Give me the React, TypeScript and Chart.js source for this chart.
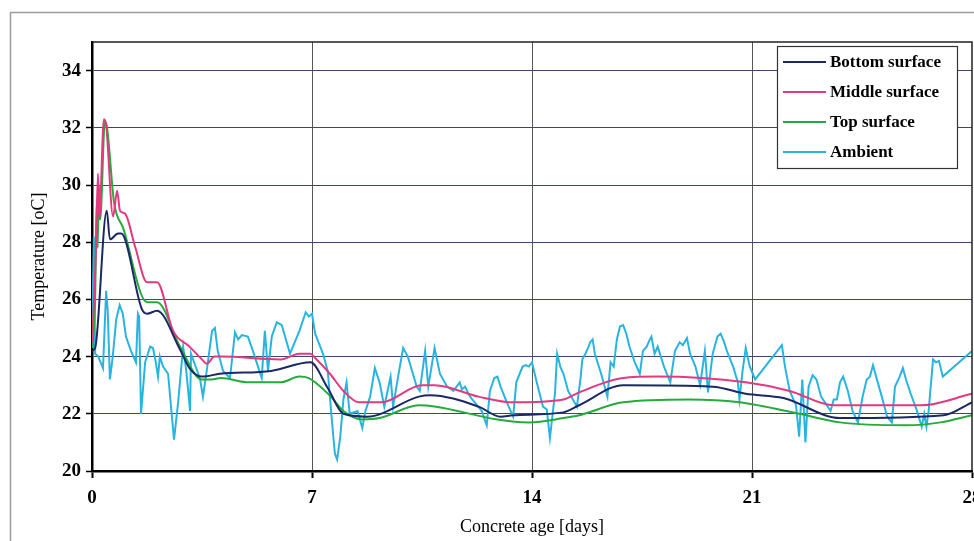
import React, { useEffect, useRef } from 'react';
import { Chart, registerables } from 'chart.js';

Chart.register(...registerables);

const FONT = '"Liberation Serif", "Times New Roman", serif';

const xTicks = [0, 7, 14, 21, 28];
const yTicks = [20, 22, 24, 26, 28, 30, 32, 34];
const seriesNames = ['Bottom surface', 'Middle surface', 'Top surface', 'Ambient'];
const seriesColors = ['#1c2766', '#e2397f', '#25ab3c', '#29b4e0'];

// [day, temperature °C]
const bottomSurface = [
  [0, 24.2], [0.1, 24.3], [0.47, 29.1], [0.57, 28.1], [0.83, 28.3], [0.93, 28.3],
  [1.59, 25.65], [1.75, 25.5], [2.07, 25.6], [2.8, 24.25], [3.1, 23.6], [3.5, 23.3],
  [4.07, 23.4], [5.7, 23.5], [6.95, 23.8], [7.5, 22.9], [8.0, 22.0], [8.75, 21.9],
  [10.4, 22.6], [10.75, 22.65], [12.3, 22.25], [13.0, 21.9], [13.4, 21.95], [15.0, 22.05],
  [15.5, 22.3], [16.9, 23.0], [19.75, 22.95], [20.8, 22.7], [22.0, 22.55], [23.8, 21.85],
  [27.1, 21.95], [28.0, 22.4],
];

const middleSurface = [
  [0, 24.5], [0.12, 27.5], [0.19, 30.4], [0.23, 28.8], [0.38, 32.3], [0.45, 32.1],
  [0.67, 28.9], [0.8, 29.8], [0.89, 29.1], [1.05, 29.0], [1.37, 27.85], [1.75, 26.6],
  [2.07, 26.6], [2.58, 24.9], [3.1, 24.35], [3.5, 23.9], [3.65, 23.75], [3.9, 24.0],
  [4.1, 24.0], [6.0, 23.9], [6.6, 24.1], [6.95, 24.1], [7.1, 23.95], [7.57, 23.4],
  [8.0, 22.8], [8.5, 22.4], [9.2, 22.4], [10.5, 23.0], [10.9, 23.0], [12.3, 22.6],
  [13.4, 22.4], [15.0, 22.5], [15.5, 22.75], [16.9, 23.25], [18.0, 23.3], [20.8, 23.1],
  [22.2, 22.8], [23.6, 22.3], [26.4, 22.3], [28.0, 22.7],
];

const topSurface = [
  [0, 24.3], [0.1, 26.0], [0.15, 29.5], [0.18, 27.8], [0.22, 30.0], [0.26, 28.8],
  [0.41, 32.2], [0.48, 32.0], [0.7, 29.4], [0.99, 28.5], [1.75, 25.9], [2.07, 25.9],
  [2.8, 24.35], [3.5, 23.2], [3.8, 23.2], [4.1, 23.25], [5.0, 23.1], [6.0, 23.1],
  [6.6, 23.3], [6.9, 23.25], [7.1, 23.1], [7.6, 22.6], [8.0, 22.1], [8.6, 21.8],
  [9.15, 21.85], [10.4, 22.3], [10.95, 22.25], [12.9, 21.8], [13.9, 21.7], [15.0, 21.85],
  [15.5, 21.95], [16.9, 22.4], [19.0, 22.5], [20.6, 22.4], [22.5, 22.0], [23.8, 21.7],
  [25.9, 21.6], [27.0, 21.7], [28.0, 21.95],
];

const ambient = [
  [0, 24.5], [0.06, 28.2], [0.1, 24.1], [0.2, 24.0], [0.35, 23.6], [0.45, 26.3],
  [0.5, 25.6], [0.57, 23.2], [0.66, 24.0], [0.77, 25.3], [0.88, 25.8], [0.98, 25.5],
  [1.08, 24.7], [1.24, 24.2], [1.4, 23.8], [1.46, 25.5], [1.5, 25.4], [1.56, 22.0],
  [1.69, 23.8], [1.85, 24.35], [1.94, 24.3], [2.03, 23.8], [2.1, 23.3], [2.16, 24.0],
  [2.26, 23.65], [2.42, 23.4], [2.61, 21.1], [2.74, 22.4], [2.9, 24.35], [3.0, 23.5],
  [3.12, 22.1], [3.15, 24.1], [3.38, 23.4], [3.44, 23.2], [3.53, 22.6], [3.65, 23.5],
  [3.82, 24.9], [3.91, 25.0], [4.0, 24.2], [4.17, 23.5], [4.39, 23.25], [4.55, 24.85],
  [4.65, 24.6], [4.77, 24.75], [4.96, 24.7], [5.12, 24.2], [5.4, 23.25], [5.5, 24.9],
  [5.6, 23.5], [5.72, 24.7], [5.88, 25.2], [6.04, 25.1], [6.3, 24.1], [6.6, 24.9],
  [6.8, 25.55], [6.9, 25.4], [7.0, 25.5], [7.1, 24.8], [7.35, 24.1], [7.5, 23.5],
  [7.67, 21.3], [7.73, 20.6], [7.8, 20.4], [7.9, 21.2], [8.0, 22.5], [8.1, 23.1],
  [8.2, 22.0], [8.45, 22.1], [8.6, 21.5], [8.7, 22.1], [8.85, 22.6], [9.0, 23.6],
  [9.15, 23.1], [9.3, 22.25], [9.5, 23.3], [9.58, 22.25], [9.74, 23.3], [9.9, 24.3],
  [10.05, 24.0], [10.33, 22.95], [10.43, 22.8], [10.6, 24.2], [10.7, 22.95], [10.9, 24.3],
  [11.07, 23.4], [11.3, 22.95], [11.5, 22.8], [11.7, 23.1], [11.77, 22.85], [11.87, 22.95],
  [12.0, 22.65], [12.1, 22.5], [12.4, 22.1], [12.56, 21.6], [12.66, 22.8], [12.8, 23.25],
  [12.9, 23.3], [13.0, 22.95], [13.2, 22.4], [13.4, 21.9], [13.5, 23.1], [13.7, 23.65],
  [13.8, 23.7], [13.9, 23.65], [14.0, 23.8], [14.15, 23.1], [14.35, 22.25], [14.47, 22.15],
  [14.57, 21.15], [14.73, 22.7], [14.8, 24.1], [14.9, 23.65], [15.0, 23.4], [15.15, 22.8],
  [15.3, 22.5], [15.43, 22.25], [15.55, 23.3], [15.6, 23.9], [15.7, 24.1], [15.8, 24.35],
  [15.85, 24.5], [15.93, 24.6], [16.0, 24.1], [16.2, 23.4], [16.4, 22.6], [16.5, 23.8],
  [16.6, 23.65], [16.7, 24.6], [16.8, 25.05], [16.9, 25.1], [17.0, 24.8], [17.1, 24.35],
  [17.27, 23.8], [17.43, 23.4], [17.53, 24.2], [17.65, 24.35], [17.75, 24.6], [17.8, 24.7],
  [17.9, 24.1], [18.0, 24.35], [18.2, 23.65], [18.4, 23.1], [18.55, 24.2], [18.7, 24.5],
  [18.8, 24.4], [18.93, 24.65], [19.03, 24.1], [19.2, 23.65], [19.35, 23.0], [19.5, 24.2],
  [19.6, 22.75], [19.75, 24.1], [19.9, 24.7], [20.0, 24.8], [20.1, 24.55], [20.2, 24.2],
  [20.4, 23.65], [20.55, 23.1], [20.6, 22.5], [20.7, 23.5], [20.8, 24.3], [20.93, 23.65],
  [21.1, 23.2], [21.95, 24.4], [22.05, 23.65], [22.2, 22.8], [22.4, 22.3], [22.5, 21.2],
  [22.6, 23.2], [22.7, 21.0], [22.8, 22.95], [22.93, 23.35], [23.05, 23.2], [23.2, 22.6],
  [23.5, 22.1], [23.6, 22.5], [23.7, 22.5], [23.8, 23.1], [23.9, 23.3], [24.05, 22.8],
  [24.2, 22.1], [24.37, 21.7], [24.52, 22.6], [24.65, 23.2], [24.75, 23.3], [24.85, 23.7],
  [24.95, 23.3], [25.13, 22.6], [25.3, 21.9], [25.45, 21.7], [25.55, 22.95], [25.7, 23.3],
  [25.8, 23.6], [25.9, 23.2], [26.05, 22.7], [26.25, 22.1], [26.4, 21.55], [26.48, 22.0],
  [26.55, 21.55], [26.62, 22.1], [26.76, 23.9], [26.85, 23.8], [26.95, 23.85], [27.07, 23.3],
  [28.0, 24.2],
];

const allSeries = [bottomSurface, middleSurface, topSurface, ambient];

export default function App() {
  const ref = useRef<HTMLCanvasElement>(null);

  useEffect(() => {
    document.body.style.margin = '0';
    const canvas = ref.current;
    if (!canvas) return;

    const decorPlugin = {
      id: 'decor',
      beforeDraw(chart: any) {
        const c = chart.ctx;
        c.save();
        c.fillStyle = '#ffffff';
        c.fillRect(0, 0, chart.width, chart.height);
        c.strokeStyle = '#9c9c9c';
        c.lineWidth = 1.5;
        c.beginPath();
        c.moveTo(10.5, chart.height);
        c.lineTo(10.5, 12.5);
        c.lineTo(chart.width, 12.5);
        c.stroke();
        c.restore();
      },
      afterDatasetsDraw(chart: any) {
        const c = chart.ctx;
        const { left, right, top, bottom } = chart.chartArea;
        c.save();
        c.strokeStyle = '#222';
        c.lineWidth = 1.5;
        c.beginPath();
        c.moveTo(left, top);
        c.lineTo(right, top);
        c.lineTo(right, bottom);
        c.stroke();

        // legend box
        const bx = 777.5, by = 46.5, bw = 180, bh = 122;
        c.fillStyle = '#ffffff';
        c.fillRect(bx, by, bw, bh);
        c.strokeStyle = '#333';
        c.lineWidth = 1.2;
        c.strokeRect(bx, by, bw, bh);
        c.font = `bold 17px ${FONT}`;
        c.textBaseline = 'middle';
        c.textAlign = 'left';
        seriesNames.forEach((name, i) => {
          const y = 62 + i * 30;
          c.strokeStyle = seriesColors[i];
          c.lineWidth = 2;
          c.beginPath();
          c.moveTo(783, y);
          c.lineTo(826, y);
          c.stroke();
          c.fillStyle = '#000';
          c.fillText(name, 830, y + 1);
        });
        c.restore();
      },
    };

    const chart = new Chart(canvas, {
      type: 'line',
      data: {
        datasets: allSeries.map((s, i) => ({
          label: seriesNames[i],
          data: s.map(([x, y]) => ({ x, y })),
          borderColor: seriesColors[i],
          backgroundColor: seriesColors[i],
          borderWidth: 2,
          pointRadius: 0,
          fill: false,
          cubicInterpolationMode: i < 3 ? 'monotone' : 'default',
          tension: 0,
        })),
      },
      options: {
        animation: false,
        responsive: false,
        maintainAspectRatio: false,
        layout: { padding: { left: 0, right: 2, top: 42, bottom: 0 } },
        plugins: { legend: { display: false }, tooltip: { enabled: false } },
        scales: {
          x: {
            type: 'linear',
            min: 0,
            max: 28,
            afterBuildTicks: (s: any) => {
              s.ticks = xTicks.map((v) => ({ value: v }));
            },
            afterFit: (s: any) => {
              s.height = 70;
              s.paddingLeft = 0;
              s.paddingRight = 0;
            },
            grid: {
              color: (ctx: any) =>
                ctx.tick && (ctx.tick.value === 0 || ctx.tick.value === 28) ? 'rgba(0,0,0,0)' : '#555',
              lineWidth: 1,
              tickLength: 7,
              tickColor: '#000',
              tickWidth: 2,
            },
            border: { display: true, color: '#000', width: 2.5 },
            ticks: {
              color: '#000',
              font: { family: FONT, size: 19, weight: 'bold' },
              padding: 9,
              maxRotation: 0,
              autoSkip: false,
            },
            title: {
              display: true,
              text: 'Concrete age [days]',
              color: '#000',
              font: { family: FONT, size: 18 },
              padding: { top: 0, bottom: 3 },
            },
          },
          y: {
            type: 'linear',
            min: 20,
            max: 35,
            afterBuildTicks: (s: any) => {
              s.ticks = yTicks.map((v) => ({ value: v }));
            },
            afterFit: (s: any) => {
              s.width = 92;
              s.paddingTop = 0;
              s.paddingBottom = 0;
            },
            grid: {
              color: '#3e4670',
              lineWidth: 1,
              tickLength: 6,
              tickColor: '#000',
              tickWidth: 1.5,
            },
            border: { display: true, color: '#000', width: 2.5 },
            ticks: {
              color: '#000',
              font: { family: FONT, size: 19, weight: 'bold' },
              padding: 5,
            },
            title: {
              display: true,
              text: 'Temperature [oC]',
              color: '#000',
              font: { family: FONT, size: 18 },
              padding: { top: 28, bottom: 0 },
            },
          },
        },
      },
      plugins: [decorPlugin],
    } as any);

    return () => chart.destroy();
  }, []);

  return (
    <div style={{ position: 'absolute', left: 0, top: 0, width: 974, height: 541 }}>
      <canvas ref={ref} width={974} height={541} style={{ display: 'block', width: 974, height: 541 }} />
    </div>
  );
}
